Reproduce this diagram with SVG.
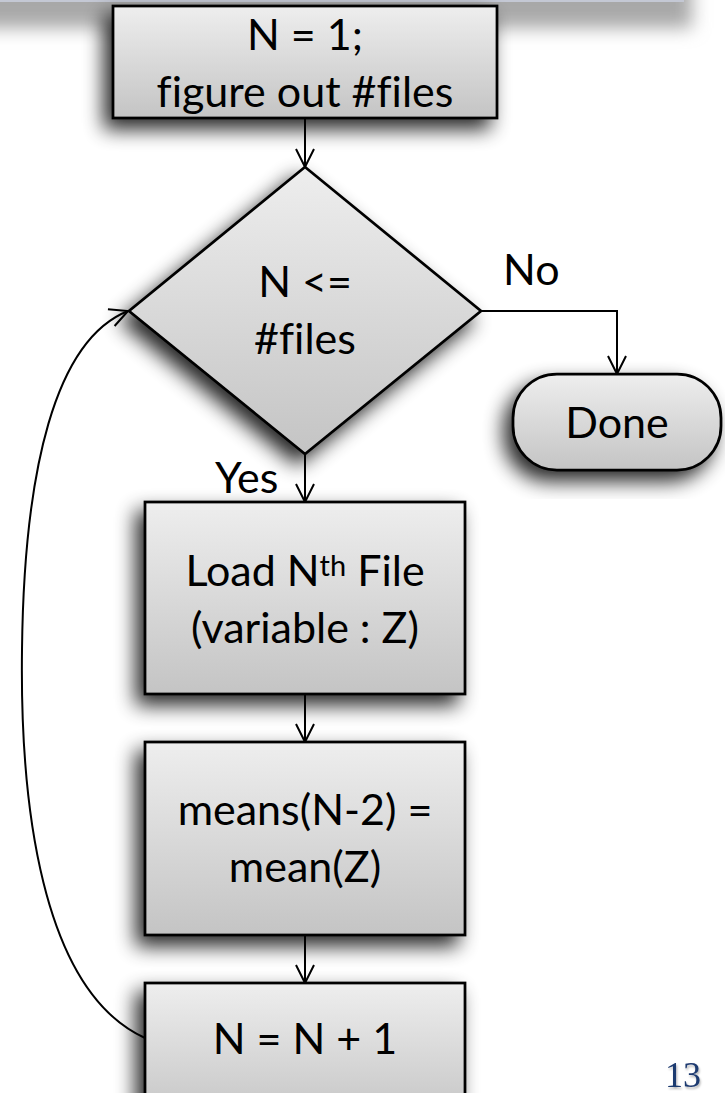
<svg xmlns="http://www.w3.org/2000/svg" width="725" height="1093" viewBox="0 0 725 1093">
<style>
.node{fill:url(#g);stroke:#000;stroke-width:2.75}
.t{font-family:Lato,"Open Sans",sans-serif;font-size:43px;fill:#000;text-anchor:middle;font-variant-ligatures:none;font-feature-settings:"liga" 0}
.l{font-family:Lato,"Open Sans",sans-serif;font-size:43px;fill:#000;font-variant-ligatures:none}
.c{fill:none;stroke:#000;stroke-width:2;marker-end:url(#a)}
</style>
<defs>
<linearGradient id="g" x1="0" y1="0" x2="0" y2="1">
<stop offset="0" stop-color="#eeeeee"/>
<stop offset="1" stop-color="#c4c4c4"/>
</linearGradient>
<filter id="sh" x="-30%" y="-30%" width="160%" height="160%">
<feGaussianBlur in="SourceAlpha" stdDeviation="10"/>
<feOffset dx="-8" dy="10" result="b"/>
<feComponentTransfer><feFuncA type="linear" slope="0.85"/></feComponentTransfer>
<feMerge><feMergeNode/><feMergeNode in="SourceGraphic"/></feMerge>
</filter>
<filter id="blur" x="-20%" y="-100%" width="140%" height="300%">
<feGaussianBlur stdDeviation="9"/>
</filter>
<filter id="ts" x="-20%" y="-20%" width="140%" height="160%">
<feDropShadow dx="1" dy="2" stdDeviation="1" flood-opacity="0.3"/>
</filter>
<marker id="a" viewBox="0 0 20 20" refX="19" refY="10" markerWidth="20" markerHeight="20" markerUnits="userSpaceOnUse" orient="auto">
<path d="M1,1 L19,10 L1,19" fill="none" stroke="#000" stroke-width="2"/>
</marker>
</defs>
<rect width="725" height="1093" fill="#fff"/>
<g id="banner">
<rect x="-60" y="-60" width="752" height="88" fill="#a8a8a8" filter="url(#blur)"/>
<rect x="0" y="0" width="684" height="2" fill="#c4c8d4"/>
</g>
<g id="connectors">
<path class="c" d="M305,118 L305,167"/>
<path class="c" d="M481,311 L617,311 L617,374"/>
<path class="c" d="M305,454 L305,502"/>
<path class="c" d="M305,694 L305,742"/>
<path class="c" d="M305,935 L305,983"/>
<path class="c" d="M145,1038 C40,990 20,800 22,650 C24,470 55,340 128,311"/>
</g>
<g id="start">
<rect class="node" x="113" y="6" width="384" height="112" filter="url(#sh)"/>
<text class="t" x="305" y="50">N = 1;</text>
<text class="t" x="305" y="107">figure out #files</text>
</g>
<g id="decision">
<polygon class="node" points="305,167 481,311 305,454 129,311" filter="url(#sh)"/>
<text class="t" x="305" y="297">N &lt;=</text>
<text class="t" x="305" y="354">#files</text>
</g>
<g id="labels">
<text class="l" x="215" y="493">Yes</text>
<text class="l" x="503" y="285">No</text>
</g>
<g id="done">
<rect class="node" x="513" y="374" width="208" height="96" rx="44" ry="44" filter="url(#sh)"/>
<text class="t" x="617" y="438">Done</text>
</g>
<g id="load">
<rect class="node" x="145" y="502" width="320" height="192" filter="url(#sh)"/>
<text class="t" x="305" y="586">Load N<tspan font-size="29" dy="-10">th</tspan><tspan dy="10"> File</tspan></text>
<text class="t" x="305" y="643">(variable : Z)</text>
</g>
<g id="means">
<rect class="node" x="145" y="742" width="320" height="193" filter="url(#sh)"/>
<text class="t" x="305" y="825">means(N-2) =</text>
<text class="t" x="305" y="882">mean(Z)</text>
</g>
<g id="increment">
<rect class="node" x="145" y="983" width="320" height="140" filter="url(#sh)"/>
<text class="t" x="305" y="1054">N = N + 1</text>
</g>
<text x="665" y="1087" font-family="'Liberation Serif',serif" font-size="36" fill="#1f3a70" filter="url(#ts)">13</text>
</svg>
